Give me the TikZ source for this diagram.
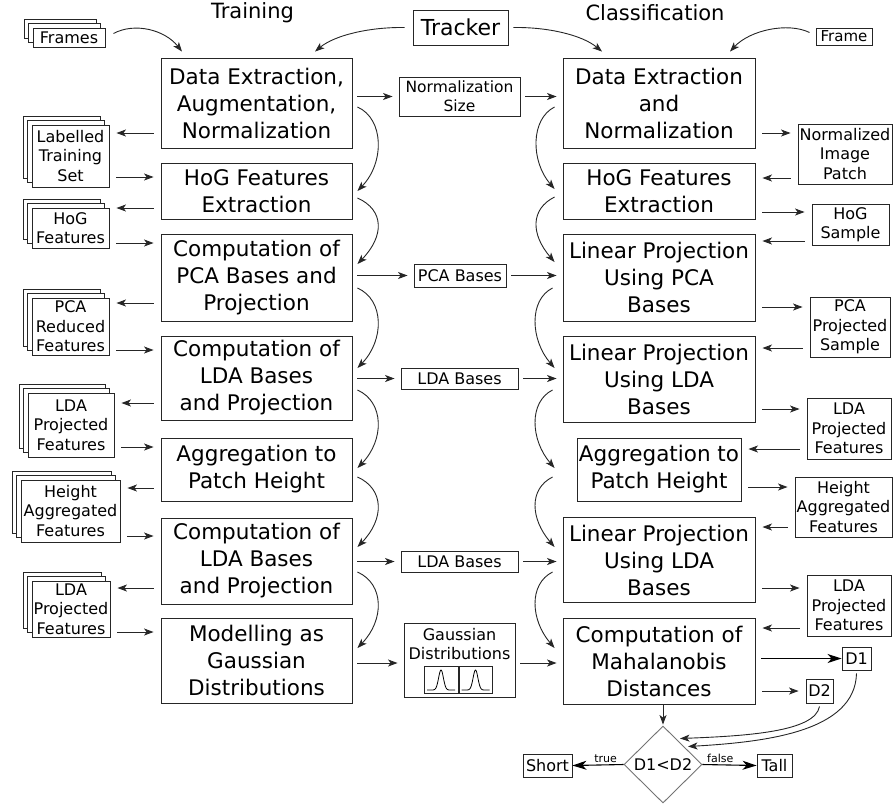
\documentclass[tikz,border=0pt]{standalone}
\usepackage{fontspec}
\setmainfont{DejaVu Sans}
\usetikzlibrary{arrows.meta,shapes.geometric,shadows}
\newcommand{\fbig}{\fontsize{21.5}{27}\selectfont}
\newcommand{\fsmall}{\fontsize{16}{19.5}\selectfont}
\begin{document}
\begin{tikzpicture}[x=1pt,y=-1pt,
  bigbox/.style={draw=black!85, line width=0.9pt, inner sep=0pt, align=center, font=\fbig},
  smallbox/.style={draw=black!85, line width=0.9pt, inner sep=0pt, align=center, font=\fsmall, fill=white},
  stackbox/.style={smallbox, double copy shadow={shadow xshift=-4.5pt, shadow yshift=4.5pt, fill=white, draw=black!85}},
  arr/.style={draw=black!85, line width=0.9pt, -{Stealth[length=9.5pt,width=7pt,inset=2.5pt]}},
  bigarr/.style={draw=black, line width=1.1pt, -{Stealth[length=14pt,width=9pt,inset=4pt]}},
  lgap/.style={shorten <=7pt, shorten >=7pt},
  mgap/.style={shorten <=5pt, shorten >=6pt},
]
\useasboundingbox (0,0) rectangle (893,807);

% titles
\node[font=\fontsize{21}{25}\selectfont] (ttrain) at (252.5,13) {Training};
\node[font=\fontsize{21}{25}\selectfont] (tclass) at (655,13) {Classification};
\node[draw=black!85, line width=0.9pt, inner sep=0pt, minimum width=95, minimum height=35, font=\fontsize{22}{26}\selectfont] (tracker) at (460.5,27.5) {Tracker};

% training column
\node[bigbox, minimum width=191, minimum height=90] (L1) at (256.5,103) {Data Extraction,\\Augmentation,\\Normalization};
\node[bigbox, minimum width=191, minimum height=56] (L2) at (256.5,191) {HoG Features\\Extraction};
\node[bigbox, minimum width=191, minimum height=87] (L3) at (256.5,277.5) {Computation of\\PCA Bases and\\Projection};
\node[bigbox, minimum width=191, minimum height=84] (L4) at (256.5,378) {Computation of\\LDA Bases\\and Projection};
\node[bigbox, minimum width=191, minimum height=63] (L5) at (256.5,469.5) {Aggregation to\\Patch Height};
\node[bigbox, minimum width=191, minimum height=86] (L6) at (256.5,561) {Computation of\\LDA Bases\\and Projection};
\node[bigbox, minimum width=191, minimum height=85] (L7) at (256.5,660.5) {Modelling as\\Gaussian\\Distributions};

% classification column
\node[bigbox, minimum width=192, minimum height=90] (R1) at (659,103) {Data Extraction\\and\\Normalization};
\node[bigbox, minimum width=192, minimum height=56] (R2) at (659,191) {HoG Features\\Extraction};
\node[bigbox, minimum width=192, minimum height=87] (R3) at (659,277.5) {Linear Projection\\Using PCA\\Bases};
\node[bigbox, minimum width=192, minimum height=86] (R4) at (659,379) {Linear Projection\\Using LDA\\Bases};
\node[bigbox, minimum width=164, minimum height=63] (R5) at (659,469.5) {Aggregation to\\Patch Height};
\node[bigbox, minimum width=192, minimum height=85] (R6) at (659,560) {Linear Projection\\Using LDA\\Bases};
\node[bigbox, minimum width=192, minimum height=86] (R7) at (659,661) {Computation of\\Mahalanobis\\Distances};

% left stacks
\node[stackbox, minimum width=72, minimum height=19] (s0) at (69,37.5) {Frames};
\node[stackbox, minimum width=77, minimum height=62] (s1) at (70.5,156) {Labelled\\Training\\Set};
\node[stackbox, minimum width=77, minimum height=40] (s2) at (70.5,228) {HoG\\Features};
\node[stackbox, minimum width=77, minimum height=57] (s3) at (70.5,326.5) {PCA\\Reduced\\Features};
\node[stackbox, minimum width=86, minimum height=64] (s4) at (71,425) {LDA\\Projected\\Features};
\node[stackbox, minimum width=99, minimum height=62] (s5) at (70.5,511) {Height\\Aggregated\\Features};
\node[stackbox, minimum width=78, minimum height=56] (s6) at (71,609) {LDA\\Projected\\Features};

% right outputs
\node[smallbox, minimum width=56, minimum height=17, font=\fontsize{15}{18}\selectfont] (fr) at (844,36.5) {Frame};
\node[smallbox, minimum width=94, minimum height=60] (o1) at (845,154) {Normalized\\Image\\Patch};
\node[smallbox, minimum width=77, minimum height=41] (o2) at (850.5,224.5) {HoG\\Sample};
\node[smallbox, minimum width=80, minimum height=60] (o3) at (850,327) {PCA\\Projected\\Sample};
\node[smallbox, minimum width=84, minimum height=61] (o4) at (849,428.5) {LDA\\Projected\\Features};
\node[smallbox, minimum width=97, minimum height=60] (o5) at (843.5,507) {Height\\Aggregated\\Features};
\node[smallbox, minimum width=84, minimum height=61] (o6) at (849,605.5) {LDA\\Projected\\Features};
\node[smallbox, minimum width=29, minimum height=23] (d1) at (856.5,658.5) {D1};
\node[smallbox, minimum width=27, minimum height=24] (d2) at (819.5,691) {D2};

% middle boxes
\node[smallbox, minimum width=121, minimum height=39, font=\fontsize{15.5}{19}\selectfont] (ns) at (459.5,96.5) {Normalization\\Size};
\node[smallbox, minimum width=92, minimum height=23] (pca) at (460,275.5) {PCA Bases};
\node[smallbox, minimum width=117, minimum height=21] (lda1) at (459.5,378.5) {LDA Bases};
\node[smallbox, minimum width=117, minimum height=21] (lda2) at (459.5,561.5) {LDA Bases};
\node[smallbox, minimum width=111, minimum height=74] (gauss) at (459.5,660) {};
\node[font=\fontsize{16}{18.5}\selectfont, align=center, inner sep=0pt] (gtext) at (459.5,644) {Gaussian\\Distributions};
\node[draw=black!85, line width=0.9pt, minimum width=34, minimum height=27, inner sep=0pt] (g1) at (441,679.5) {};
\node[draw=black!85, line width=0.9pt, minimum width=33, minimum height=27, inner sep=0pt] (g2) at (475.5,679.5) {};
\draw[line width=0.8pt] plot[domain=-14:14, samples=60, smooth] ({441+\x},{690-20*exp(-((\x/3.4)^2))});
\draw[line width=0.8pt] plot[domain=-14:14, samples=60, smooth] ({475.5+\x},{690-20*exp(-((\x/3.4)^2))});

% decision
\node[diamond, draw=black!55, line width=0.9pt, aspect=1, minimum width=78, minimum height=77, inner sep=0pt, font=\fsmall] (dia) at (663,764.5) {D1<D2};
\node[smallbox, minimum width=49, minimum height=23] (short) at (547.5,765.5) {Short};
\node[smallbox, minimum width=35, minimum height=23] (tall) at (774.5,765.5) {Tall};

% top arrows
\draw[arr] ([shift={(8,-4)}]s0.east) .. controls (135,22) and (165,30) .. ([shift={(-74.5,-6)}]L1.north);
\draw[arr] ([xshift=-8pt]tracker.west) .. controls (370,27) and (335,35) .. ([shift={(58.5,-6)}]L1.north);
\draw[arr] ([xshift=5pt]tracker.east) .. controls (548,27) and (582,35) .. ([shift={(-57,-6)}]R1.north);
\draw[arr] ([shift={(-6,-4)}]fr.west) .. controls (788,22) and (750,30) .. ([shift={(71,-6)}]R1.north);

% left side arrows
\draw[arr,lgap] (L1.west |- 0,133) -- (s1.east |- 0,133);
\draw[arr,lgap] (s1.east |- 0,177) -- (L2.west |- 0,177);
\draw[arr,lgap] (L2.west |- 0,208) -- (s2.east |- 0,208);
\draw[arr,lgap] (s2.east |- 0,243) -- (L3.west |- 0,243);
\draw[arr,lgap] (L3.west |- 0,303) -- (s3.east |- 0,303);
\draw[arr,lgap] (s3.east |- 0,350) -- (L4.west |- 0,350);
\draw[arr,lgap] (L4.west |- 0,403) -- (s4.east |- 0,403);
\draw[arr,lgap] (s4.east |- 0,447) -- (L5.west |- 0,447);
\draw[arr,lgap] (L5.west |- 0,488) -- (s5.east |- 0,488);
\draw[arr,lgap] (s5.east |- 0,536) -- (L6.west |- 0,536);
\draw[arr,lgap] (L6.west |- 0,588) -- (s6.east |- 0,588);
\draw[arr,lgap] (s6.east |- 0,632) -- (L7.west |- 0,632);

% right side arrows
\draw[arr,lgap] (R1.east |- 0,133) -- (o1.west |- 0,133);
\draw[arr,lgap] (o1.west |- 0,178) -- (R2.east |- 0,178);
\draw[arr,lgap] (R2.east |- 0,212) -- (o2.west |- 0,212);
\draw[arr,lgap] (o2.west |- 0,241) -- (R3.east |- 0,241);
\draw[arr,lgap] (R3.east |- 0,307) -- (o3.west |- 0,307);
\draw[arr,lgap] (o3.west |- 0,348) -- (R4.east |- 0,348);
\draw[arr,lgap] (R4.east |- 0,409) -- (o4.west |- 0,409);
\draw[arr,lgap] (o4.west |- 0,449) -- (R5.east |- 0,449);
\draw[arr,lgap] (R5.east |- 0,487) -- (o5.west |- 0,487);
\draw[arr,lgap] (o5.west |- 0,527) -- (R6.east |- 0,527);
\draw[arr,lgap] (R6.east |- 0,588) -- (o6.west |- 0,588);
\draw[arr,lgap] (o6.west |- 0,628) -- (R7.east |- 0,628);
\draw[bigarr,shorten <=6pt] (R7.east |- d1.west) -- (d1.west);
\draw[arr,lgap] (R7.east |- d2.west) -- (d2.west);

% middle arrows
\draw[arr,mgap] (L1.east |- ns.west) -- (ns.west);
\draw[arr,mgap] (ns.east) -- (R1.west |- ns.east);
\draw[arr,mgap] (L3.east |- pca.west) -- (pca.west);
\draw[arr,mgap] (pca.east) -- (R3.west |- pca.east);
\draw[arr,mgap] (L4.east |- lda1.west) -- (lda1.west);
\draw[arr,mgap] (lda1.east) -- (R4.west |- lda1.east);
\draw[arr,mgap] (L6.east |- lda2.west) -- (lda2.west);
\draw[arr,mgap] (lda2.east) -- (R6.west |- lda2.east);
\draw[arr,mgap] (L7.east |- 0,663) -- (gauss.west |- 0,663);
\draw[arr,mgap] (gauss.east |- 0,663) -- (R7.west |- 0,663);

% curved arrows, training column
\draw[arr] ([shift={(5,4)}]L1.east) .. controls +(27,12) and +(27,-28) .. ([shift={(5,0)}]L2.east);
\draw[arr] ([shift={(5,7)}]L2.east) .. controls +(27,12) and +(27,-28) .. ([shift={(5,-13.5)}]L3.east);
\draw[arr] ([shift={(5,10.5)}]L3.east) .. controls +(27,12) and +(27,-28) .. ([shift={(5,-10)}]L4.east);
\draw[arr] ([shift={(5,12)}]L4.east) .. controls +(27,12) and +(27,-28) .. ([shift={(5,-1.5)}]L5.east);
\draw[arr] ([shift={(5,7.5)}]L5.east) .. controls +(27,12) and +(27,-28) .. ([shift={(5,-14)}]L6.east);
\draw[arr] ([shift={(5,11)}]L6.east) .. controls +(27,12) and +(27,-28) .. ([shift={(5,-12.5)}]L7.east);

% curved arrows, classification column
\draw[arr] ([shift={(-8,4)}]R1.west) .. controls +(-24,12) and +(-24,-28) .. ([shift={(-8,-2)}]R2.west);
\draw[arr] ([shift={(-8,6)}]R2.west) .. controls +(-24,12) and +(-24,-28) .. ([shift={(-8,-15.5)}]R3.west);
\draw[arr] ([shift={(-10,10.5)}]R3.west) .. controls +(-24,12) and +(-24,-28) .. ([shift={(-8,-11)}]R4.west);
\draw[arr] ([shift={(-10,11)}]R4.west) .. controls +(-24,12) and +(-24,-28) .. ([shift={(-22,-1.5)}]R5.west);
\draw[arr] ([shift={(-24,7.5)}]R5.west) .. controls +(-24,12) and +(-24,-28) .. ([shift={(-8,-13)}]R6.west);
\draw[arr] ([shift={(-10,12)}]R6.west) .. controls +(-24,12) and +(-24,-28) .. ([shift={(-8,-13)}]R7.west);

% decision arrows
\draw[arr,shorten >=1pt] (dia.north |- R7.south) -- (dia.north);
\draw[arr] ([yshift=-3pt]d2.south) .. controls (815,732) and (745,736) .. ([shift={(17,-26)}]dia.center);
\draw[arr] ([yshift=-3pt]d1.south) .. controls (855,732) and (765,742) .. ([shift={(25,-18)}]dia.center);
\draw[bigarr] (dia.west) -- (short.east) node[pos=0.35, above, inner sep=2pt, font=\fontsize{11}{13}\selectfont] {true};
\draw[bigarr] (dia.east) -- (tall.west) node[pos=0.33, above, inner sep=2pt, font=\fontsize{11}{13}\selectfont] {false};
\end{tikzpicture}
\end{document}
